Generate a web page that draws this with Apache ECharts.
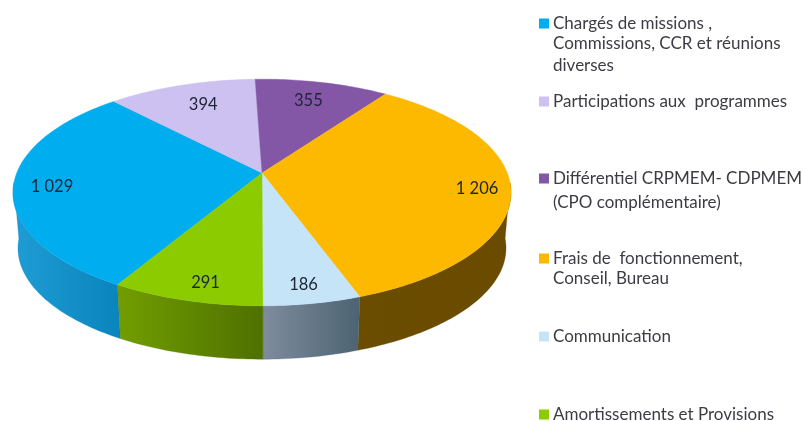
<!DOCTYPE html>
<html>
<head>
<meta charset="utf-8">
<style>html,body{margin:0;padding:0;background:#fff}#c{width:803px;height:421px}</style>
<script src="https://cdn.jsdelivr.net/npm/echarts@6/dist/echarts.min.js"></script>
</head>
<body>
<div id="c"></div>
<script>
// Data, clockwise order from the lower-left boundary
const categories = [
  "Chargés de missions ,\nCommissions, CCR et réunions\ndiverses",
  "Participations aux  programmes",
  "Différentiel CRPMEM- CDPMEM\n(CPO complémentaire)",
  "Frais de  fonctionnement,\nConseil, Bureau",
  "Communication",
  "Amortissements et Provisions"
];
const values = [1029, 394, 355, 1206, 186, 291];

// Styles
const topColors = ["#00ADEF", "#CCC1F0", "#8457A6", "#FDB900", "#C6E4F7", "#8CCB00"];
const sideFrom  = ["#1E9DD4", "#A89DC8", "#6A4488", "#6B4D00", "#7E8C9E", "#729E00"];
const sideTo    = ["#0A84BC", "#A89DC8", "#6A4488", "#6A4B00", "#4C6372", "#4E7000"];
const labelAngleShift = [-2, 1.4, -0.5, 1.7, 0.4, -2];
const labelRadius = [0.847, 0.75, 0.77, 0.867, 0.878, 0.875];
const legendTops = [22, 100, 177, 257, 335, 413];
const lineGap = [22, 0, 26, 22, 0, 0];

// Tilted-disc projection
const START = 210.1, CX = 262, CY = 173, A = 245.3, B = 110, P = 0.172;
const DEPTH = 56, SHRINK = 0.98;
const total = values.reduce((a, b) => a + b, 0);
function project(deg, r) {
  const t = deg * Math.PI / 180, u = r * Math.sin(t), v = -r * Math.cos(t), w = 1 - P * v;
  return [CX + A * u / w, CY + B * v / w];
}
function lower(p) {
  return [CX + (p[0] - CX) * SHRINK, CY + (p[1] - CY) * SHRINK + DEPTH];
}
function arc(a0, a1) {
  const n = Math.max(2, Math.ceil(Math.abs(a1 - a0))), out = [];
  for (let i = 0; i <= n; i++) out.push(project(a0 + (a1 - a0) * i / n, 1));
  return out;
}
function fmt(v) { return String(v).replace(/\B(?=(\d{3})+$)/g, " "); }

const bounds = [];
let acc = START;
values.forEach(v => { bounds.push([acc, acc + v / total * 360]); acc += v / total * 360; });

function overlap(a0, a1) {
  // visible front rim runs from 95deg to 265deg
  const ranges = [];
  for (const k of [0, 360]) {
    const s = Math.max(a0, 95 + k), e = Math.min(a1, 265 + k);
    if (e > s) ranges.push([s, e]);
  }
  return ranges;
}

const series = categories.map((name, i) => ({
  type: "custom",
  name,
  coordinateSystem: "none",
  silent: true,
  animation: false,
  itemStyle: { color: topColors[i] },
  data: [[values[i]]],
  renderItem: function () {
    const [a0, a1] = bounds[i];
    const children = [];
    overlap(a0, a1).forEach(([s, e]) => {
      const rim = arc(s, e);
      children.push({
        type: "polygon", z2: 1,
        shape: { points: rim.concat(rim.map(lower).reverse()) },
        style: {
          fill: { type: "linear", x: 0, y: 0, x2: 1, y2: 0,
            colorStops: [{ offset: 0, color: sideFrom[i] }, { offset: 1, color: sideTo[i] }] },
          stroke: sideTo[i], lineWidth: 0.3
        }
      });
    });
    children.push({
      type: "polygon", z2: 5,
      shape: { points: [[CX, CY]].concat(arc(a0, a1)) },
      style: { fill: topColors[i], stroke: topColors[i], lineWidth: 0.4 }
    });
    const lp = project((a0 + a1) / 2 + labelAngleShift[i], labelRadius[i]);
    children.push({
      type: "text", z2: 10, x: lp[0], y: lp[1],
      style: { text: fmt(values[i]), fill: "#1D2433", align: "center", verticalAlign: "middle",
        font: '16.5px Lato' }
    });
    return { type: "group", children };
  }
}));

const legends = categories.map((name, i) => ({
  data: [name],
  left: 537,
  top: legendTops[i] - 8,
  itemWidth: 10, itemHeight: 10, itemGap: 0,
  icon: "rect",
  orient: "vertical",
  selectedMode: false,
  padding: [1, 2],
  formatter: n => n.split("\n")[0],
  textStyle: { color: "#3C3C44", fontFamily: "Lato", fontSize: 17, padding: [0, 0, 0, -1] }
}));

const extraLines = [];
categories.forEach((name, i) => {
  name.split("\n").slice(1).forEach((line, k) => {
    extraLines.push({
      type: "text", left: 553, top: legendTops[i] + lineGap[i] * (k + 1) - 9,
      silent: true,
      style: { text: line, fill: "#3C3C44", font: '17px Lato' }
    });
  });
});

const chart = echarts.init(document.getElementById("c"), null, { renderer: "canvas" });
chart.setOption({
  backgroundColor: "#fff",
  animation: false,
  legend: legends,
  series,
  graphic: extraLines
});
</script>
</body>
</html>
